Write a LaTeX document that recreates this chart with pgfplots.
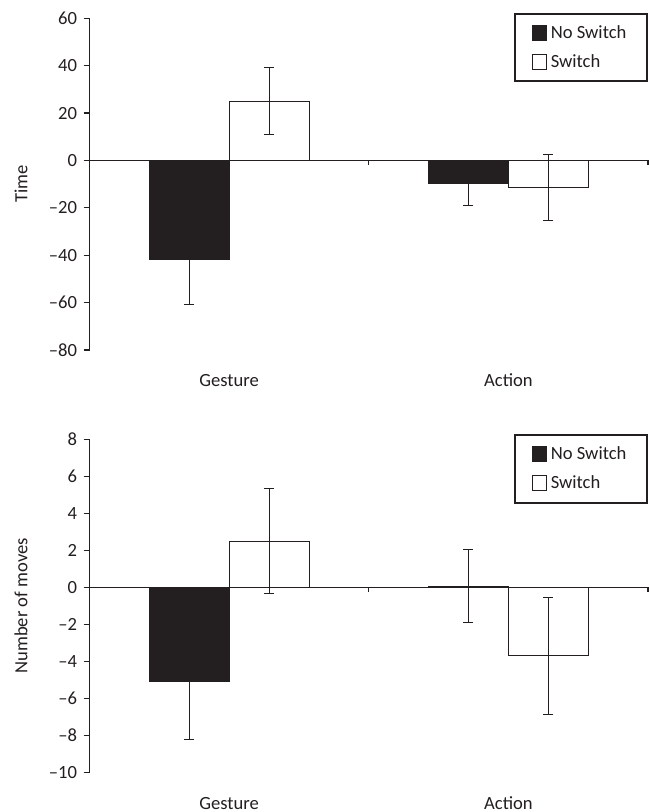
\documentclass[border=0pt]{standalone}
\usepackage{fontspec}
\setmainfont{Carlito}
\usepackage{pgfplots}
\pgfplotsset{compat=1.18}
\definecolor{ink}{RGB}{35,31,32}

\pgfplotstableread{
x  y      e
0  -41.6  19.3
1  -9.6   9.5
}\timeNo
\pgfplotstableread{
x  y      e
0  25.0   14.2
1  -11.5  13.9
}\timeSw
\pgfplotstableread{
x  y      e
0  -5.1   3.1
1  0.05   1.97
}\movesNo
\pgfplotstableread{
x  y      e
0  2.49   2.85
1  -3.70  3.16
}\movesSw

\pgfplotsset{
  barfig/.style={
    scale only axis, width=279.2pt,
    xmin=-0.5, xmax=1.5,
    axis lines*=left, separate axis lines,
    x axis line style={draw=none},
    y axis line style={line width=0.6pt, ink, -},
    xtick={0,1}, xticklabels={Gesture,Action},
    major x tick style={draw=none},
    xticklabel style={anchor=base, yshift=-15.5pt},
    tick align=outside, major tick length=3pt,
    major y tick style={line width=0.6pt, ink},
    /pgf/number format/assume math mode=true,
    ylabel style={at={(axis description cs:-0.123,0.5)}, anchor=center},
    ybar, bar width=0.2865, clip=false,
    legend image code/.code={\draw[#1] (0pt,-3.6pt) rectangle (7.2pt,3.6pt);},
    legend style={at={(1,1)}, anchor=north east, yshift=2.8pt, draw=ink,
      line width=1pt, legend cell align=left, row sep=3pt,
      inner xsep=8.5pt, inner ysep=4pt,
      nodes={inner sep=1.8pt, line width=0.6pt, text=ink}},
  },
  nosw/.style={fill=ink, draw=ink, line width=0.6pt, bar shift=-0.1433,
    error bars/.cd, y dir=both, y explicit,
    error bar style={line width=0.5pt, ink},
    error mark options={rotate=90, mark size=2.5pt, line width=0.5pt, ink}},
  sw/.style={fill=white, draw=ink, line width=0.6pt, bar shift=0.1433,
    error bars/.cd, y dir=both, y explicit,
    error bar style={line width=0.5pt, ink},
    error mark options={rotate=90, mark size=2.5pt, line width=0.5pt, ink}},
}

\begin{document}
\fontsize{9.3}{11}\selectfont
\color{ink}
\begin{tikzpicture}
\path[use as bounding box] (0,0) rectangle (324.5pt,406pt);

% top panel: time
\begin{axis}[barfig, at={(44.8pt,231pt)}, anchor=south west,
    height=165.85pt, ymin=-80, ymax=60,
    ytick={-80,-60,-40,-20,0,20,40,60},
    yticklabels={--80,--60,--40,--20,0,20,40,60},
    ylabel={Time}]
  \addplot[nosw] table[x=x, y=y, y error=e] {\timeNo};
  \addplot[sw] table[x=x, y=y, y error=e] {\timeSw};
  \legend{No Switch, Switch}
  \draw[line width=0.6pt, ink] (axis cs:-0.5,0) -- (axis cs:1.5,0);
  \draw[line width=0.6pt, ink] (axis cs:0.5,0) -- ++(0pt,-2.5pt);
  \draw[line width=0.6pt, ink] (axis cs:1.5,0) -- ++(0pt,-2.5pt);
\end{axis}

% bottom panel: number of moves
\begin{axis}[barfig, at={(44.8pt,19.85pt)}, anchor=south west,
    height=166.5pt, ymin=-10, ymax=8,
    ytick={-10,-8,-6,-4,-2,0,2,4,6,8},
    yticklabels={--10,--8,--6,--4,--2,0,2,4,6,8},
    ylabel={Number of moves}]
  \addplot[nosw] table[x=x, y=y, y error=e] {\movesNo};
  \addplot[sw] table[x=x, y=y, y error=e] {\movesSw};
  \legend{No Switch, Switch}
  \draw[line width=0.6pt, ink] (axis cs:-0.5,0) -- (axis cs:1.5,0);
  \draw[line width=0.6pt, ink] (axis cs:0.5,0) -- ++(0pt,-2.5pt);
  \draw[line width=0.6pt, ink] (axis cs:1.5,0) -- ++(0pt,-2.5pt);
\end{axis}
\end{tikzpicture}
\end{document}
